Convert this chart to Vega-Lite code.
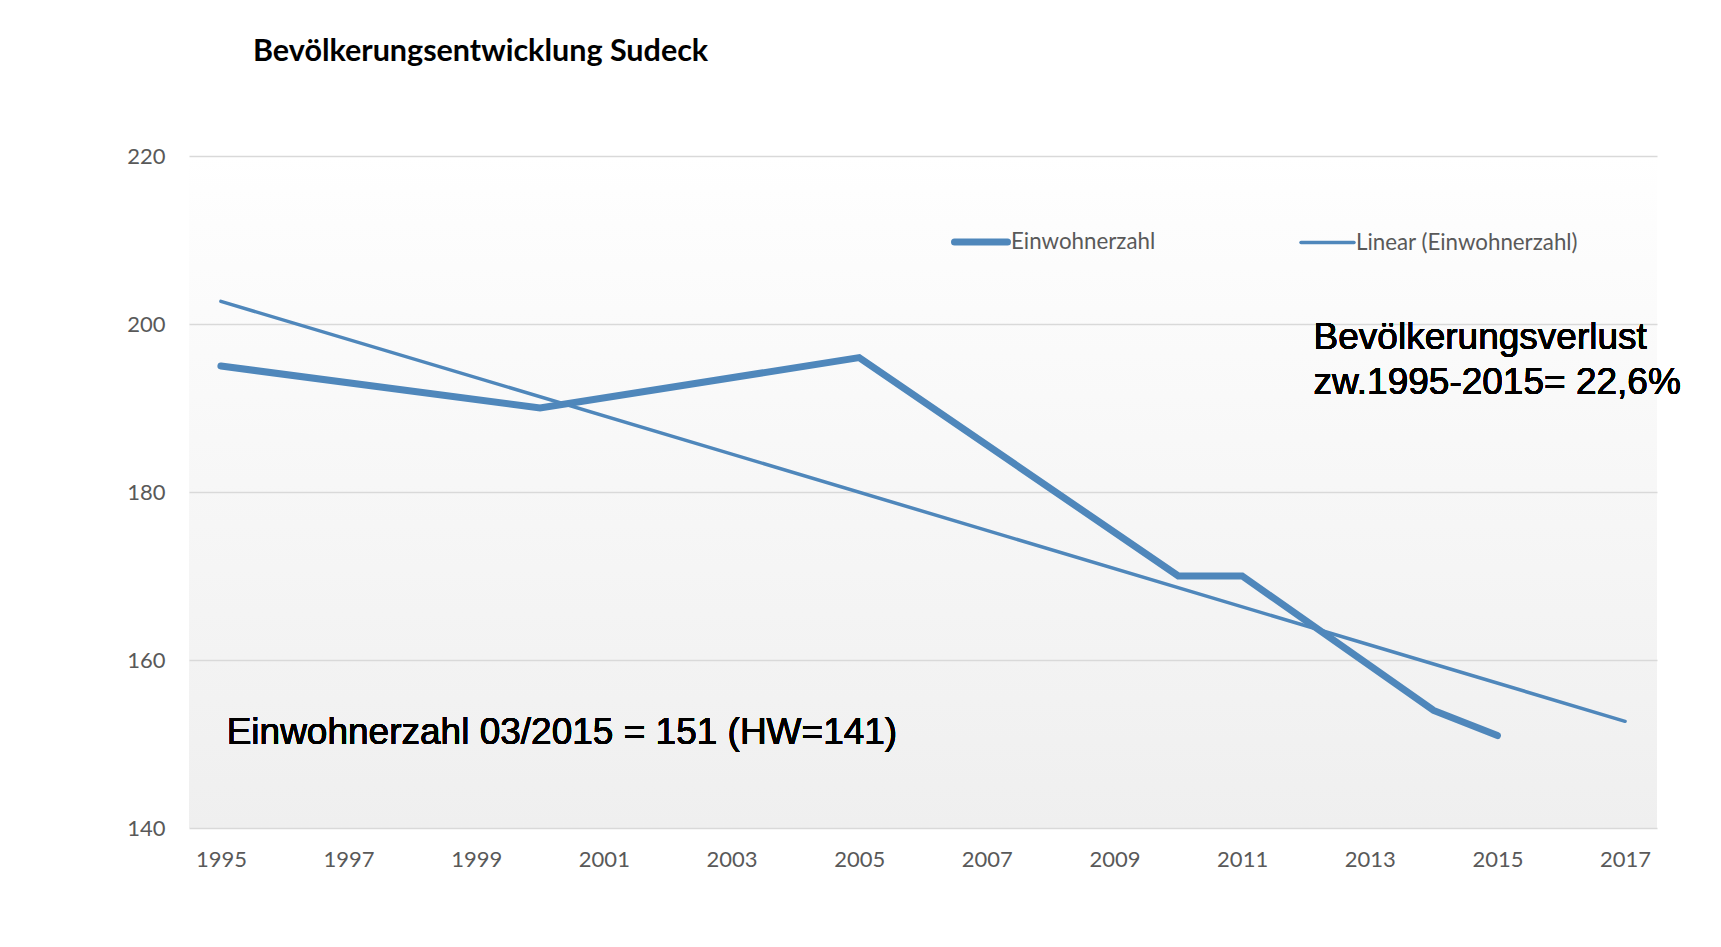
{
  "$schema": "https://vega.github.io/schema/vega-lite/v6.json",
  "autosize": {"type": "none"},
  "width": 1468,
  "height": 672,
  "padding": {"left": 189, "top": 156, "right": 64, "bottom": 119},
  "background": "#ffffff",
  "title": {
    "text": "Bevölkerungsentwicklung Sudeck",
    "anchor": "start",
    "frame": "group",
    "dx": 64,
    "offset": 54,
    "baseline": "alphabetic",
    "font": "Lato",
    "fontSize": 30.5,
    "fontWeight": "bold",
    "color": "#000000"
  },
  "data": {
    "values": [
      {"series": "Einwohnerzahl", "year": 1995, "pop": 195},
      {"series": "Einwohnerzahl", "year": 2000, "pop": 190},
      {"series": "Einwohnerzahl", "year": 2005, "pop": 196},
      {"series": "Einwohnerzahl", "year": 2010, "pop": 170},
      {"series": "Einwohnerzahl", "year": 2011, "pop": 170},
      {"series": "Einwohnerzahl", "year": 2014, "pop": 154},
      {"series": "Einwohnerzahl", "year": 2015, "pop": 151},
      {"series": "Linear (Einwohnerzahl)", "year": 1995, "pop": 202.7},
      {"series": "Linear (Einwohnerzahl)", "year": 2017, "pop": 152.7}
    ]
  },
  "layer": [
    {
      "mark": {"type": "line", "color": "#4f87bb", "strokeCap": "round", "strokeJoin": "miter"},
      "encoding": {
        "x": {
          "field": "year", "type": "quantitative",
          "scale": {"domain": [1994.5, 2017.5], "nice": false, "zero": false},
          "axis": {
            "title": null, "values": [1995,1997,1999,2001,2003,2005,2007,2009,2011,2013,2015,2017],
            "format": "d", "grid": false, "domain": false, "ticks": false,
            "labelFont": "Lato", "labelFontSize": 22, "labelColor": "#595959", "labelPadding": 21
          }
        },
        "y": {
          "field": "pop", "type": "quantitative",
          "scale": {"domain": [140, 220], "nice": false, "zero": false},
          "axis": {
            "title": null, "values": [140,160,180,200,220], "grid": true, "gridColor": "#d9d9d9", "gridWidth": 1.5,
            "domain": false, "ticks": false,
            "labelFont": "Lato", "labelFontSize": 22, "labelColor": "#595959", "labelPadding": 24
          }
        },
        "detail": {"field": "series"},
        "strokeWidth": {
          "field": "series", "type": "nominal",
          "scale": {"domain": ["Einwohnerzahl", "Linear (Einwohnerzahl)"], "range": [7, 3.5]},
          "legend": {
            "title": null, "orient": "none", "legendX": 762, "legendY": 56,
            "direction": "horizontal", "columnPadding": 138,
            "symbolType": "stroke", "symbolSize": 2809, "symbolStrokeColor": "#4f87bb",
            "labelFont": "Lato", "labelFontSize": 22.3, "labelColor": "#595959", "labelOffset": 0,
            "labelLimit": 400,
            "encode": {"symbols": {"update": {"strokeCap": {"value": "round"}}}}
          }
        }
      }
    },
    {
      "mark": {"type": "text", "align": "left", "baseline": "alphabetic", "font": "Liberation Sans", "fontSize": 37, "lineHeight": 45, "color": "#000000",
               "text": ["Bevölkerungsverlust", "zw.1995-2015= 22,6%"]},
      "encoding": {
        "x": {"datum": 2012.12, "type": "quantitative"},
        "y": {"datum": 197.0, "type": "quantitative"}
      }
    },
    {
      "mark": {"type": "text", "align": "left", "baseline": "alphabetic", "font": "Liberation Sans", "fontSize": 37, "color": "#000000",
               "text": "Einwohnerzahl 03/2015 = 151 (HW=141)"},
      "encoding": {
        "x": {"datum": 1995.09, "type": "quantitative"},
        "y": {"datum": 150.0, "type": "quantitative"}
      }
    }
  ],
  "config": {
    "view": {
      "stroke": null,
      "fill": {"gradient": "linear", "x1": 0, "y1": 0, "x2": 0, "y2": 1,
               "stops": [{"offset": 0, "color": "#ffffff"}, {"offset": 0.1, "color": "#fdfdfd"}, {"offset": 1, "color": "#efefef"}]}
    }
  }
}
